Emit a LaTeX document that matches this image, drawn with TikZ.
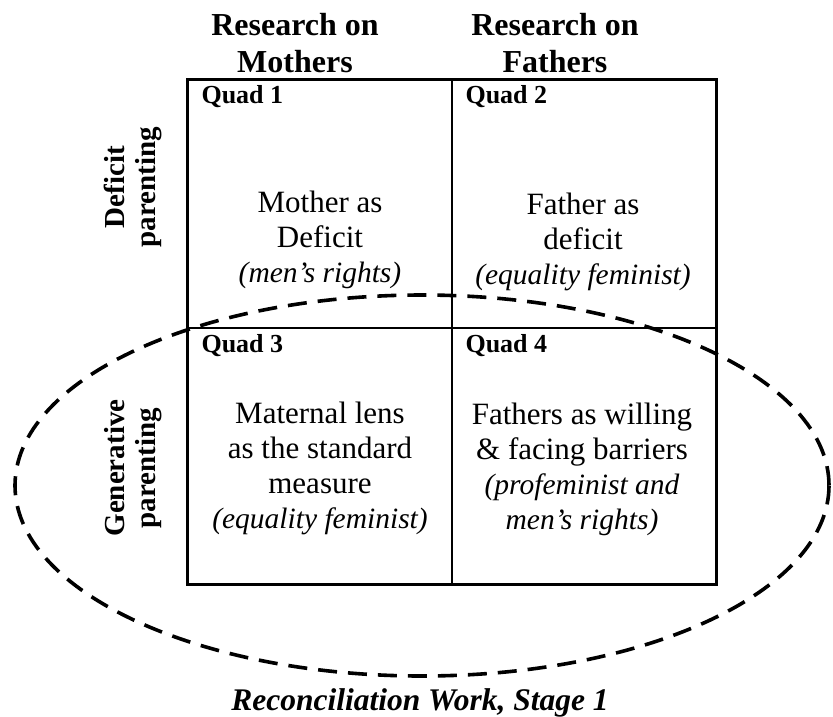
\documentclass[tikz,border=0pt]{standalone}
\usepackage{fontspec}
\setmainfont{Liberation Serif}
\newcommand{\stance}[1]{{\fontsize{29.5}{35}\selectfont\itshape #1}}
\begin{document}
\begin{tikzpicture}[x=1pt, y=-1pt,
    cell/.style={draw, line width=1.3pt, minimum width=264pt, inner sep=0pt},
    quadlabel/.style={font=\fontsize{26}{30}\selectfont\bfseries, anchor=base west, inner sep=0pt},
    body/.style={font=\fontsize{31}{35}\selectfont, align=center, inner sep=0pt},
    header/.style={font=\fontsize{32}{37}\selectfont\bfseries, align=center, inner sep=0pt},
    rowlabel/.style={font=\fontsize{29}{31}\selectfont\bfseries, align=center, rotate=90, inner sep=0pt},
    reconcile/.style={dashed, dash pattern=on 19pt off 11pt, line width=3.6pt},
  ]
    \useasboundingbox (0,0) rectangle (833,716);

    \node[cell, minimum height=248pt] (q1) at (320, 204) {};
    \node[cell, minimum height=248pt] (q2) at (584, 204) {};
    \node[cell, minimum height=256pt] (q3) at (320, 456) {};
    \node[cell, minimum height=256pt] (q4) at (584, 456) {};
    \draw[line width=3pt] (q1.north west) rectangle (q4.south east);

    \node[header] (hmothers) at (295, 43) {Research on\\Mothers};
    \node[header] (hfathers) at (555, 43) {Research on\\Fathers};

    \node[rowlabel] (rdeficit) at (133, 187) {Deficit\\parenting};
    \node[rowlabel] (rgenerative) at (133, 468) {Generative\\parenting};

    \node[quadlabel] (lq1) at ([shift={(14,24)}]q1.north west) {Quad 1};
    \node[quadlabel] (lq2) at ([shift={(14,24)}]q2.north west) {Quad 2};
    \node[quadlabel] (lq3) at ([shift={(14,25)}]q3.north west) {Quad 3};
    \node[quadlabel] (lq4) at ([shift={(14,25)}]q4.north west) {Quad 4};

    \node[body] (t1) at (320, 240) {Mother as\\Deficit\\\stance{(men's rights)}};
    \node[body] (t2) at (583, 242) {Father as\\deficit\\\stance{(equality feminist)}};
    \node[body] (t3) at (320, 468) {Maternal lens\\as the standard\\measure\\\stance{(equality feminist)}};
    \node[body] (t4) at (582, 469) {Fathers as willing\\\& facing barriers\\\stance{(profeminist and}\\\stance{men's rights)}};

    % stage 1 grouping
    \draw[reconcile] (422, 485.5) ellipse [x radius=407, y radius=190.5];
    \node[font=\fontsize{31.5}{35}\selectfont\bfseries\itshape, anchor=base, inner sep=0pt]
      (stage) at (420, 710) {Reconciliation Work, Stage 1};
\end{tikzpicture}
\end{document}
